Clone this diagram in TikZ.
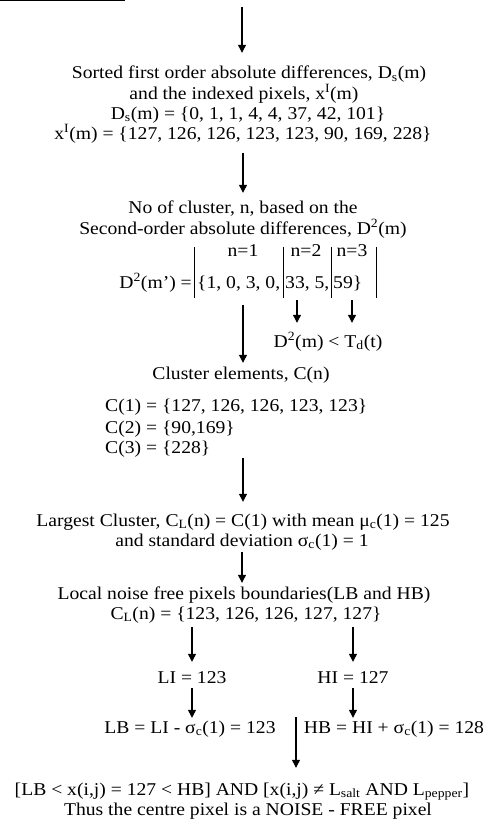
\documentclass[tikz,border=0pt]{standalone}
\usepackage{fontspec}
\setmainfont{Liberation Serif}[FakeStretch=1.09]
\usepackage{tikz}
\usetikzlibrary{arrows.meta}

\tikzset{
  txt/.style={inner sep=0pt, anchor=base, text height=13bp, text depth=4bp,
    font=\fontsize{18bp}{20bp}\selectfont},
  arr/.style={-{Triangle[length=8bp,width=8bp]}, line width=1.2bp},
  bar/.style={line width=1bp}
}

\begin{document}
\begin{tikzpicture}[x=1bp,y=-1bp]
\useasboundingbox (0,0) rectangle (485,820);
\draw[bar] (0,1) -- (125,1);
\coordinate (in) at (242,7);

\node[txt] (l1) at (249,79) {Sorted first order absolute differences, D\textsubscript{s}(m)};
\node[txt] (l2) at (244,99) {and the indexed pixels, x\textsuperscript{I}(m)};
\node[txt] (l3) at (248,119) {D\textsubscript{s}(m) = \{0, 1, 1, 4, 4, 37, 42, 101\}};
\node[txt] (l4) at (243,139) {x\textsuperscript{I}(m) = \{127, 126, 126, 123, 123, 90, 169, 228\}};

\node[txt] (ncl1) at (243,213) {No of cluster, n, based on the};
\node[txt] (ncl2) at (243,234) {Second-order absolute differences, D\textsuperscript{2}(m)};
\node[txt] (n1) at (243,256) {n=1};
\node[txt] (n2) at (306,256) {n=2};
\node[txt] (n3) at (352,256) {n=3};
\node[txt,anchor=base east] (dm) at (192,288) {D\textsuperscript{2}(m') =};
\node[txt,anchor=base west] (set1) at (197,288) {\{1, 0, 3, 0,};
\node[txt,anchor=base west] (set2) at (285,288) {33, 5,};
\node[txt,anchor=base west] (set3) at (333,288) {59\}};
\draw[bar] (194,247) -- (194,298);
\draw[bar] (283,247) -- (283,298);
\draw[bar] (331,247) -- (331,298);
\draw[bar] (376,247) -- (376,298);
\node[txt] (lt) at (328,347) {D\textsuperscript{2}(m) < T\textsubscript{d}(t)};

\node[txt] (cel) at (241,379) {Cluster elements, C(n)};
\node[txt,anchor=base west] (c1) at (105,411) {C(1) = \{127, 126, 126, 123, 123\}};
\node[txt,anchor=base west] (c2) at (105,433) {C(2) = \{90,169\}};
\node[txt,anchor=base west] (c3) at (105,453) {C(3) = \{228\}};

\node[txt] (lc1) at (243,526) {Largest Cluster, C\textsubscript{L}(n) = C(1) with mean μ\textsubscript{c}(1) = 125};
\node[txt] (lc2) at (242,546) {and standard deviation σ\textsubscript{c}(1) = 1};
\node[txt] (lnf1) at (244,599) {Local noise free pixels boundaries(LB and HB)};
\node[txt] (lnf2) at (246,619) {C\textsubscript{L}(n) = \{123, 126, 126, 127, 127\}};

\node[txt] (li) at (192,683) {LI = 123};
\node[txt] (hi) at (353,683) {HI = 127};
\node[txt] (lb) at (190,733) {LB = LI - σ\textsubscript{c}(1) = 123};
\node[txt] (hb) at (394,733) {HB = HI + σ\textsubscript{c}(1) = 128};
\coordinate (fs) at (296,717);

\node[txt] (fin1) at (242,795) {[LB < x(i,j) = 127 < HB] AND [x(i,j) ≠ L\textsubscript{salt} AND L\textsubscript{pepper}]};
\node[txt] (fin2) at (248,815) {Thus the centre pixel is a NOISE - FREE pixel};

\draw[arr,shorten >=13bp] (in) -- (in |- l1.north);
\draw[arr,shorten <=10bp,shorten >=7bp] (l4.south) -- (ncl1.north);
\draw[arr,shorten <=13bp,shorten >=3bp] (n1 |- set1.south) -- (n1 |- cel.north);
\draw[arr,shorten <=8bp,shorten >=11bp] ([xshift=-9bp]n2 |- set2.south) -- ([xshift=-9bp]n2 |- lt.north);
\draw[arr,shorten <=8bp,shorten >=11bp] (n3 |- set3.south) -- (n3 |- lt.north);
\draw[arr,shorten <=1bp,shorten >=11bp] (lc1 |- c3.south) -- (lc1.north);
\draw[arr,shorten <=2bp,shorten >=3bp] (lc2.south) -- (lc2 |- lnf1.north);
\draw[arr,shorten <=4bp,shorten >=8bp] (li |- lnf2.south) -- (li.north);
\draw[arr,shorten <=4bp,shorten >=8bp] (hi |- lnf2.south) -- (hi.north);
\draw[arr,shorten <=1bp,shorten >=2bp] (li.south) -- (li |- lb.north);
\draw[arr,shorten <=1bp,shorten >=2bp] (hi.south) -- (hi |- hb.north);
\draw[arr,shorten >=14bp] (fs) -- (fs |- fin1.north);
\end{tikzpicture}
\end{document}
